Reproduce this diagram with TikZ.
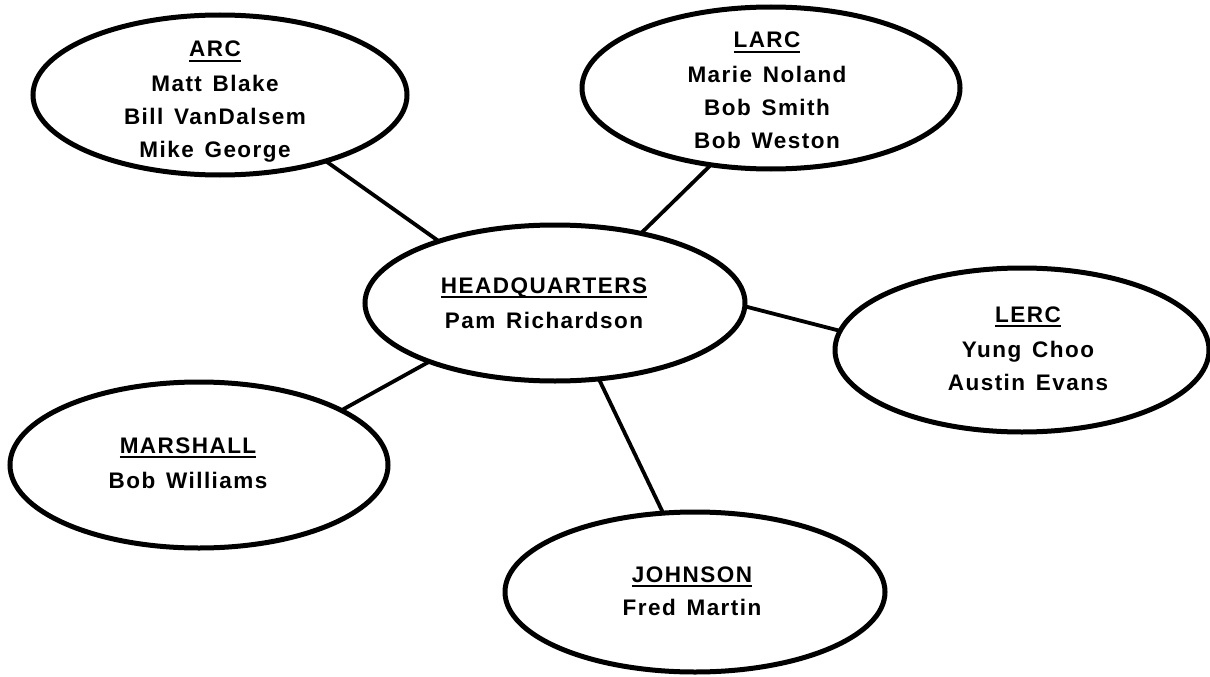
\documentclass[tikz,border=0pt]{standalone}
\usepackage{fontspec}
\newfontfamily\lblfont{Liberation Sans}[LetterSpace=6.5,WordSpace=1.4]
\usetikzlibrary{shapes.geometric}
\newcommand\orgtitle[1]{\setbox0\hbox{#1}\rlap{\usebox0}\rule[-5pt]{\wd0}{1.7pt}}
\begin{document}
\begin{tikzpicture}[x=1pt,y=-1pt,
  site/.style 2 args={ellipse,draw,line width=5pt,inner sep=0pt,outer sep=0pt,minimum width=#1,minimum height=#2},
  lbl/.style={font=\lblfont\bfseries\fontsize{22.5}{33}\selectfont,anchor=base,inner sep=0pt},
  link/.style={line width=3.8pt}]
\fill[white] (0,0) rectangle (1210,677);
\useasboundingbox (0,0) rectangle (1210,677);
% ellipses
\node[site={374pt}{160pt}] (arc) at (220,95) {};
\node[site={378pt}{162pt}] (larc) at (771,88) {};
\node[site={380pt}{156pt}] (hq) at (555,303) {};
\node[site={374pt}{164pt}] (lerc) at (1022,350) {};
\node[site={378pt}{166pt}] (mar) at (199,465) {};
\node[site={380pt}{160pt}] (joh) at (695,592) {};
% texts
\node[lbl] (arc0) at (215,57) {\orgtitle{ARC}};
\node[lbl] (arc1) at (215,92) {Matt Blake};
\node[lbl] (arc2) at (215,124) {Bill VanDalsem};
\node[lbl] (arc3) at (215,157) {Mike George};
\node[lbl] (larc0) at (767,48) {\orgtitle{LARC}};
\node[lbl] (larc1) at (767,82) {Marie Noland};
\node[lbl] (larc2) at (767,115) {Bob Smith};
\node[lbl] (larc3) at (767,148) {Bob Weston};
\node[lbl] (hq0) at (544,293) {\orgtitle{HEADQUARTERS}};
\node[lbl] (hq1) at (544,328) {Pam Richardson};
\node[lbl] (lerc0) at (1028,322) {\orgtitle{LERC}};
\node[lbl] (lerc1) at (1028,357) {Yung Choo};
\node[lbl] (lerc2) at (1028,390) {Austin Evans};
\node[lbl] (mar0) at (188,453) {\orgtitle{MARSHALL}};
\node[lbl] (mar1) at (188,488) {Bob Williams};
\node[lbl] (joh0) at (692,582) {\orgtitle{JOHNSON}};
\node[lbl] (joh1) at (692,615) {Fred Martin};
% connectors
\draw[link] (arc.-32.5) -- (hq.152.9);
\draw[link] (larc.-128.7) -- (hq.39.8);
\draw[link] (hq.-1) -- (lerc.174.4);
\draw[link] (hq.-155.7) -- (mar.21.6);
\draw[link] (hq.-60.2) -- (joh.112);
\end{tikzpicture}
\end{document}
